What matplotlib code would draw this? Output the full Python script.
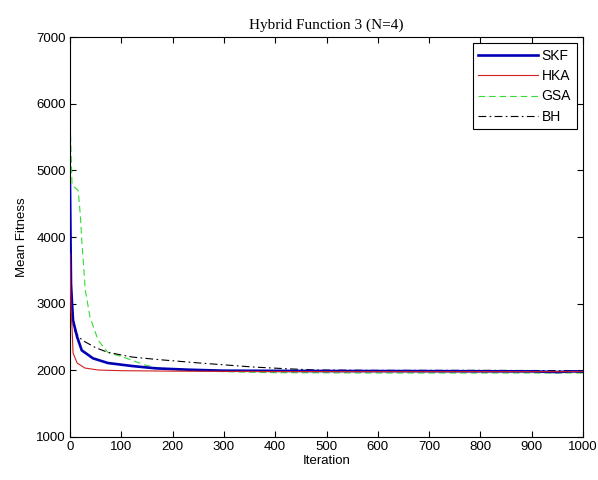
import matplotlib
matplotlib.use("Agg")
import matplotlib.pyplot as plt

# curve samples (iteration, mean fitness)
skf_it = [0, 2, 4, 6, 14, 23, 45, 74, 121, 167, 230, 300, 500, 700, 900, 950, 980, 1000]
skf_fit = [4780, 3300, 3010, 2750, 2500, 2300, 2180, 2110, 2065, 2030, 2010, 1995, 1990, 1988, 1985, 1975, 1985, 1980]

hka_it = [0, 1, 2, 4, 6, 14, 29, 55, 100, 200, 400, 700, 1000]
hka_fit = [3750, 3300, 2900, 2650, 2260, 2110, 2035, 2005, 1995, 1988, 1982, 1980, 1980]

gsa_it = [0, 2, 4, 10, 16, 20, 23, 30, 39, 55, 74, 107, 146, 175, 230, 300, 400, 600, 800, 1000]
gsa_fit = [5850, 5300, 4780, 4740, 4700, 4350, 3955, 3200, 2800, 2450, 2270, 2190, 2080, 2030, 1995, 1980, 1965, 1960, 1960, 1960]

bh_it = [0, 2, 5, 10, 20, 29, 50, 74, 121, 167, 253, 357, 420, 480, 600, 800, 1000]
bh_fit = [3100, 2900, 2720, 2580, 2480, 2430, 2340, 2270, 2200, 2165, 2110, 2050, 2025, 2005, 2000, 2000, 1995]

x_ticks = [0, 100, 200, 300, 400, 500, 600, 700, 800, 900, 1000]
y_ticks = [1000, 2000, 3000, 4000, 5000, 6000, 7000]

fig = plt.figure(figsize=(5.98, 4.8), dpi=100)
ax = fig.add_axes([0.117, 0.0896, 0.858, 0.833])

ax.plot(skf_it, skf_fit, color="#0000b4", lw=1.9, label="SKF", zorder=3)
ax.plot(hka_it, hka_fit, color="#d42020", lw=0.8, label="HKA", zorder=4)
ax.plot(gsa_it, gsa_fit, color="#33dd33", lw=0.8, ls=(0, (6, 3.5)), label="GSA", zorder=2)
ax.plot(bh_it, bh_fit, color="black", lw=0.8, ls=(0, (7, 3, 1.5, 3)), label="BH", zorder=2)

ax.set_xlim(0, 1000)
ax.set_ylim(1000, 7000)
ax.set_xticks(x_ticks)
ax.set_yticks(y_ticks)

tick_font = {"family": "Liberation Sans", "size": 9.5}
ax.set_xticklabels([str(t) for t in x_ticks], fontdict=tick_font)
ax.set_yticklabels([str(t) for t in y_ticks], fontdict=tick_font)
ax.tick_params(direction="in", top=True, right=True, length=4, width=0.8, pad=3)
for s in ax.spines.values():
    s.set_linewidth(0.8)

ax.set_xlabel("Iteration", fontdict=tick_font, labelpad=1)
ax.set_ylabel("Mean Fitness", fontdict=tick_font, labelpad=6)
ax.set_title("Hybrid Function 3 (N=4)", family="Liberation Serif", size=11, pad=6)

leg = ax.legend(loc="upper right", bbox_to_anchor=(0.9955, 0.995), fancybox=False,
                edgecolor="black", framealpha=1, handlelength=4.3,
                prop={"family": "Liberation Sans", "size": 10},
                borderpad=0.4, labelspacing=0.45, handletextpad=0.25,
                borderaxespad=0.3)
leg.get_frame().set_linewidth(0.8)

fig.savefig("out.png", dpi=100)
